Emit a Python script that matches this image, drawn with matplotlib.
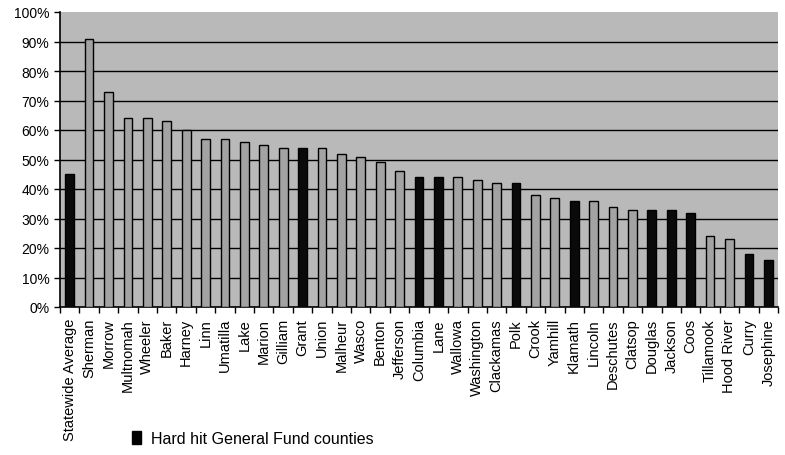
import numpy as np
import matplotlib.pyplot as plt
from matplotlib.patches import Patch
from matplotlib.ticker import FixedLocator, FuncFormatter

# County values (percent)
counties = ["Statewide Average", "Sherman", "Morrow", "Multnomah", "Wheeler", "Baker",
            "Harney", "Linn", "Umatilla", "Lake", "Marion", "Gilliam", "Grant", "Union",
            "Malheur", "Wasco", "Benton", "Jefferson", "Columbia", "Lane", "Wallowa",
            "Washington", "Clackamas", "Polk", "Crook", "Yamhill", "Klamath", "Lincoln",
            "Deschutes", "Clatsop", "Douglas", "Jackson", "Coos", "Tillamook", "Hood River",
            "Curry", "Josephine"]
values = [45, 91, 73, 64, 64, 63, 60, 57, 57, 56, 55, 54, 54, 54, 52, 51, 49, 46,
          44, 44, 44, 43, 42, 42, 38, 37, 36, 36, 34, 33, 33, 33, 32, 24, 23, 18, 16]
hard_hit = ["Statewide Average", "Grant", "Columbia", "Lane", "Polk", "Klamath",
            "Douglas", "Jackson", "Coos", "Curry", "Josephine"]

plt.rcParams['font.family'] = ['Liberation Sans', 'DejaVu Sans']

fig = plt.figure(figsize=(7.85, 4.56), dpi=100)
ax = fig.add_axes([60 / 785, 148 / 456, 718 / 785, 295 / 456])
ax.set_facecolor('#b9b9b9')

x = np.arange(len(counties))
colors = ['#0a0a0a' if c in hard_hit else '#a3a3a3' for c in counties]
ax.bar(x, values, width=0.45, color=colors, edgecolor='black', linewidth=1.0, zorder=3)

ax.set_ylim(0, 100)
ax.set_xlim(-0.5, len(counties) - 0.5)
ax.set_yticks(np.arange(0, 101, 10))
ax.yaxis.set_major_formatter(FuncFormatter(lambda v, p: f"{int(v)}%"))

# horizontal grid lines, none at the very top
for g in range(10, 100, 10):
    ax.axhline(g, color='black', linewidth=1.0, zorder=1)

ax.set_xticks(x)
ax.set_xticklabels(counties, rotation=90, fontsize=10.5)
ax.xaxis.set_minor_locator(FixedLocator(np.arange(-0.5, len(counties), 1)))
ax.tick_params(axis='x', which='major', length=0, pad=8)
ax.tick_params(axis='x', which='minor', length=4, width=1, direction='out')
ax.tick_params(axis='y', labelsize=10, length=4, width=1, direction='out')

for s in ['top', 'right']:
    ax.spines[s].set_visible(False)
ax.spines['left'].set_linewidth(1.2)
ax.spines['bottom'].set_linewidth(1.2)

fig.legend(handles=[Patch(facecolor='black', edgecolor='black')],
           labels=["Hard hit General Fund counties"],
           loc='lower left', bbox_to_anchor=(118 / 785, -0.012), frameon=False,
           fontsize=11.5, handlelength=0.55, handleheight=0.8, handletextpad=0.6)

fig.savefig('out.png', dpi=100)
